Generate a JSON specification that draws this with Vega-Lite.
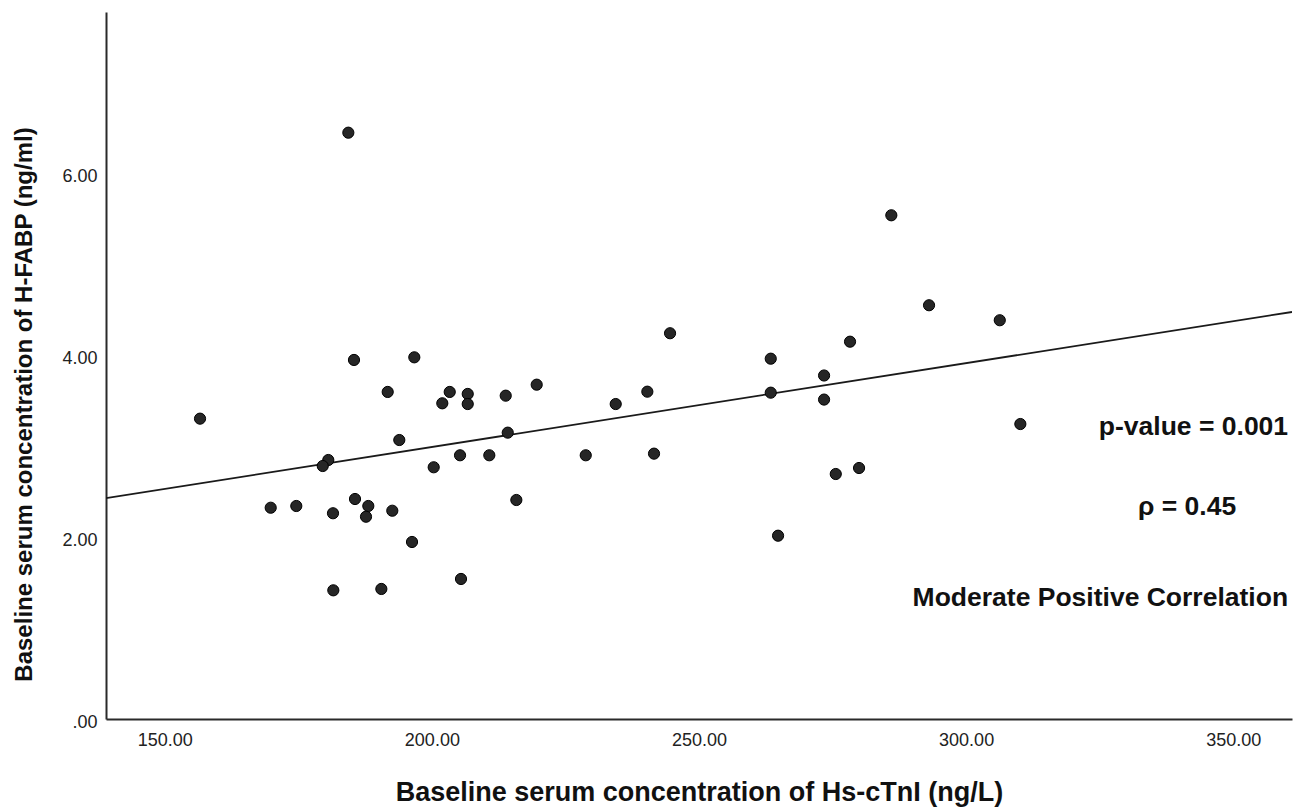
{
  "$schema": "https://vega.github.io/schema/vega-lite/v6.json",
  "width": 1186,
  "height": 707,
  "autosize": {"type": "none"},
  "padding": {"left": 106, "top": 12, "right": 9, "bottom": 89},
  "background": "white",
  "config": {
    "view": {"stroke": null},
    "font": "Liberation Sans",
    "axis": {"grid": false, "ticks": false, "domainColor": "#2a2a2a", "domainWidth": 2, "labelColor": "#222222", "labelFont": "Liberation Sans", "labelFontSize": 18, "titleFont": "Liberation Sans", "titleColor": "#111111", "titleFontWeight": "bold"}
  },
  "datasets": {
    "points": [
      {"ctni": 156.60, "hfabp": 3.305},
      {"ctni": 184.36, "hfabp": 6.452},
      {"ctni": 185.42, "hfabp": 3.951},
      {"ctni": 196.71, "hfabp": 3.980},
      {"ctni": 191.73, "hfabp": 3.599},
      {"ctni": 203.34, "hfabp": 3.599},
      {"ctni": 201.95, "hfabp": 3.474},
      {"ctni": 206.71, "hfabp": 3.577},
      {"ctni": 206.71, "hfabp": 3.466},
      {"ctni": 213.82, "hfabp": 3.558},
      {"ctni": 219.62, "hfabp": 3.679},
      {"ctni": 193.90, "hfabp": 3.070},
      {"ctni": 214.20, "hfabp": 3.151},
      {"ctni": 180.61, "hfabp": 2.850},
      {"ctni": 179.57, "hfabp": 2.784},
      {"ctni": 205.27, "hfabp": 2.902},
      {"ctni": 210.75, "hfabp": 2.902},
      {"ctni": 228.80, "hfabp": 2.902},
      {"ctni": 200.34, "hfabp": 2.770},
      {"ctni": 169.83, "hfabp": 2.325},
      {"ctni": 174.62, "hfabp": 2.344},
      {"ctni": 181.49, "hfabp": 2.264},
      {"ctni": 185.61, "hfabp": 2.421},
      {"ctni": 188.10, "hfabp": 2.344},
      {"ctni": 187.67, "hfabp": 2.226},
      {"ctni": 192.59, "hfabp": 2.292},
      {"ctni": 215.81, "hfabp": 2.410},
      {"ctni": 196.28, "hfabp": 1.948},
      {"ctni": 205.45, "hfabp": 1.541},
      {"ctni": 181.55, "hfabp": 1.416},
      {"ctni": 190.54, "hfabp": 1.431},
      {"ctni": 244.58, "hfabp": 4.245},
      {"ctni": 263.43, "hfabp": 3.965},
      {"ctni": 273.41, "hfabp": 3.780},
      {"ctni": 240.33, "hfabp": 3.602},
      {"ctni": 234.41, "hfabp": 3.466},
      {"ctni": 263.43, "hfabp": 3.591},
      {"ctni": 273.41, "hfabp": 3.515},
      {"ctni": 241.58, "hfabp": 2.920},
      {"ctni": 264.80, "hfabp": 2.017},
      {"ctni": 286.00, "hfabp": 5.543},
      {"ctni": 293.06, "hfabp": 4.553},
      {"ctni": 306.30, "hfabp": 4.388},
      {"ctni": 278.27, "hfabp": 4.152},
      {"ctni": 310.15, "hfabp": 3.246},
      {"ctni": 279.96, "hfabp": 2.762},
      {"ctni": 275.60, "hfabp": 2.696}
    ],
    "fit": [
      {"ctni": 139, "hfabp": 2.43},
      {"ctni": 361, "hfabp": 4.479}
    ],
    "notes": [
      {"ctni": 360.27, "hfabp": 3.213, "label": "p-value = 0.001", "align": "right"},
      {"ctni": 341.36, "hfabp": 2.333, "label": "ρ = 0.45", "align": "center"},
      {"ctni": 360.27, "hfabp": 1.332, "label": "Moderate Positive Correlation", "align": "right"}
    ]
  },
  "layer": [
    {
      "data": {"name": "fit"},
      "mark": {"type": "line", "color": "#1a1a1a", "strokeWidth": 1.8, "clip": true},
      "encoding": {
        "x": {"field": "ctni", "type": "quantitative", "scale": {"domain": [139, 361], "nice": false, "zero": false},
          "axis": {"values": [150, 200, 250, 300, 350], "format": ".2f", "labelPadding": 12, "title": "Baseline serum concentration of Hs-cTnI (ng/L)", "titleFontSize": 27, "titleY": 73, "titleBaseline": "middle"}},
        "y": {"field": "hfabp", "type": "quantitative", "scale": {"domain": [0, 7.78], "nice": false},
          "axis": {"values": [0, 2, 4, 6], "labelExpr": "datum.value == 0 ? '.00' : format(datum.value, '.2f')", "labelPadding": 9, "labelOffset": 3, "title": "Baseline serum concentration of H-FABP (ng/ml)", "titleFontSize": 24, "titleX": -82, "titleY": 392, "titleBaseline": "middle", "titleAngle": 270}}
      }
    },
    {
      "data": {"name": "points"},
      "mark": {"type": "point", "filled": true, "size": 125, "color": "#262626", "stroke": "#000000", "strokeWidth": 1, "opacity": 1},
      "encoding": {
        "x": {"field": "ctni", "type": "quantitative"},
        "y": {"field": "hfabp", "type": "quantitative"}
      }
    },
    {
      "data": {"name": "notes"},
      "transform": [{"filter": "datum.align == 'right'"}],
      "mark": {"type": "text", "align": "right", "baseline": "middle", "fontSize": 26.5, "fontWeight": "bold", "color": "#111111"},
      "encoding": {
        "x": {"field": "ctni", "type": "quantitative"},
        "y": {"field": "hfabp", "type": "quantitative"},
        "text": {"field": "label"}
      }
    },
    {
      "data": {"name": "notes"},
      "transform": [{"filter": "datum.align == 'center'"}],
      "mark": {"type": "text", "align": "center", "baseline": "middle", "fontSize": 26.5, "fontWeight": "bold", "color": "#111111"},
      "encoding": {
        "x": {"field": "ctni", "type": "quantitative"},
        "y": {"field": "hfabp", "type": "quantitative"},
        "text": {"field": "label"}
      }
    }
  ]
}
